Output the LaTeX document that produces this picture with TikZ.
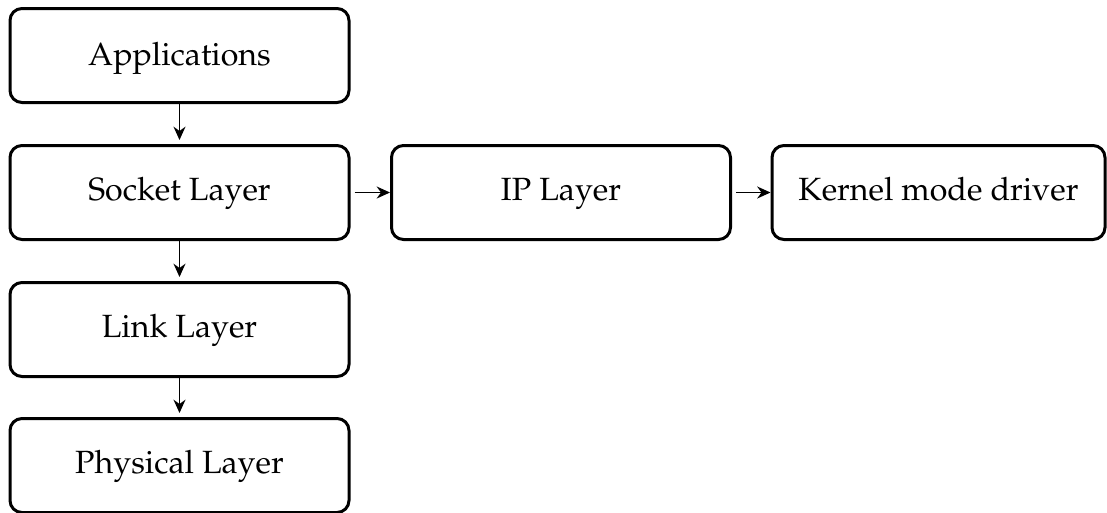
\documentclass[tikz,border=0pt]{standalone}
\usepackage[T1]{fontenc}
\usepackage{mathpazo}
\usetikzlibrary{arrows.meta}
\begin{document}
\begin{tikzpicture}[x=0.3pt,y=-0.3pt,
  layer/.style={draw, line width=0.9pt, rounded corners=3.6pt,
    minimum width=101.7pt, minimum height=28.2pt, inner sep=0pt,
    text height=7pt, text depth=2.5pt,
    font=\fontsize{9.65}{11.6}\selectfont},
  flow/.style={-{Stealth[length=4pt,width=3.6pt]}, line width=0.55pt}]
  \useasboundingbox (0,0) rectangle (1107,512);
  \node[layer, text depth=1.3pt] (app) at (179.5,55.5) {Applications};
  \node[layer] (sock) at (179.5,192.5) {Socket Layer};
  \node[layer] (link) at (179.5,329.5) {Link Layer};
  \node[layer] (phys) at (179.5,465.5) {Physical Layer};
  \node[layer] (ip)   at (561,192.5)   {IP Layer};
  \node[layer, minimum width=99.9pt] (kern) at (938.5,192.5) {Kernel mode driver};
  \draw[flow, shorten >=1.2pt] (app) -- (sock);
  \draw[flow, shorten >=1.2pt] (sock) -- (link);
  \draw[flow, shorten >=1.2pt] (link) -- (phys);
  \draw[flow, shorten <=1.2pt] (sock) -- (ip);
  \draw[flow, shorten <=1.2pt] (ip) -- (kern);
\end{tikzpicture}
\end{document}
